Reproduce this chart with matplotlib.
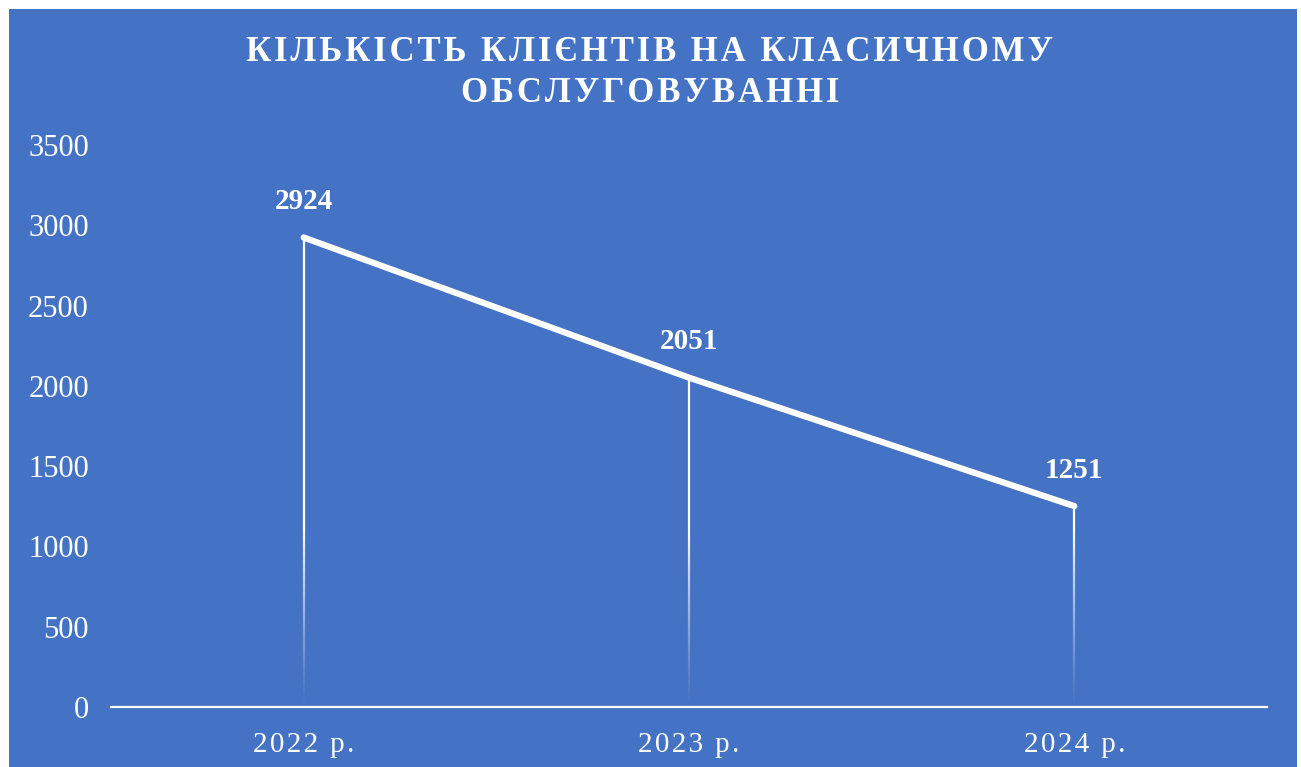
import numpy as np
import matplotlib.pyplot as plt
from matplotlib.collections import LineCollection
from matplotlib.patches import Rectangle

plt.rcParams['font.family'] = ['Liberation Serif', 'DejaVu Serif']

years = ["2022 р.", "2023 р.", "2024 р."]
clients = [2924, 2051, 1251]
yticks = [0, 500, 1000, 1500, 2000, 2500, 3000, 3500]
title = "КІЛЬКІСТЬ КЛІЄНТІВ НА КЛАСИЧНОМУ\nОБСЛУГОВУВАННІ"

bg = "#4472C4"


def spaced(s, sep="\u200a"):
    # rough letter spacing
    return "\n".join(sep.join(line) for line in s.split("\n"))


fig = plt.figure(figsize=(13.01, 7.67), dpi=100)
fig.patch.set_facecolor("white")
fig.patches.append(Rectangle((9 / 1301, 0), (1297 - 9) / 1301, (767 - 9) / 767,
                             transform=fig.transFigure, facecolor=bg,
                             edgecolor="none", zorder=-10))

ax = fig.add_axes([111 / 1301, (767 - 707) / 767, (1267 - 111) / 1301, (707 - 145) / 767])
ax.set_facecolor("none")
x = np.arange(len(years))

# fading drop lines (blend toward bg colour, opaque, so no overlap artefacts)
bg_rgb = np.array([0x44, 0x72, 0xC4]) / 255
for xi, v in zip(x, clients):
    ys = np.linspace(0, v, 120)
    segs = [[(xi, ys[i]), (xi, ys[i + 1])] for i in range(len(ys) - 1)]
    a = np.clip(ys[:-1] / 1100, 0, 1) ** 1.2
    cols = [tuple(bg_rgb * (1 - ai) + ai) for ai in a]
    lc = LineCollection(segs, colors=cols, linewidths=1.6, zorder=2)
    lc.set_capstyle("butt")
    ax.add_collection(lc)

ax.plot(x, clients, color="white", lw=4.5, solid_capstyle="round", zorder=3)
for xi, v in zip(x, clients):
    ax.annotate(str(v), (xi, v), xytext=(0, 16), textcoords="offset points",
                ha="center", va="bottom", color="white", fontsize=21, fontweight="bold")

ax.set_xlim(-0.5, 2.5)
ax.set_ylim(0, 3500)
ax.set_yticks(yticks)
ax.set_yticklabels([str(t) for t in yticks], fontsize=22, color="white")
ax.set_xticks(x)
ax.set_xticklabels([spaced(y) for y in years], fontsize=21, color="white")
ax.tick_params(length=0)
ax.tick_params(axis="y", pad=16)
ax.tick_params(axis="x", pad=18)
for s in ["top", "right", "left"]:
    ax.spines[s].set_visible(False)
ax.spines["bottom"].set_color("white")
ax.spines["bottom"].set_linewidth(1.6)

fig.text(650 / 1301, 1 - 73 / 767, spaced(title), ha="center", va="center",
         fontsize=25, fontweight="bold", color="white", linespacing=1.3)

fig.savefig("out.png", dpi=100, facecolor=fig.get_facecolor())
